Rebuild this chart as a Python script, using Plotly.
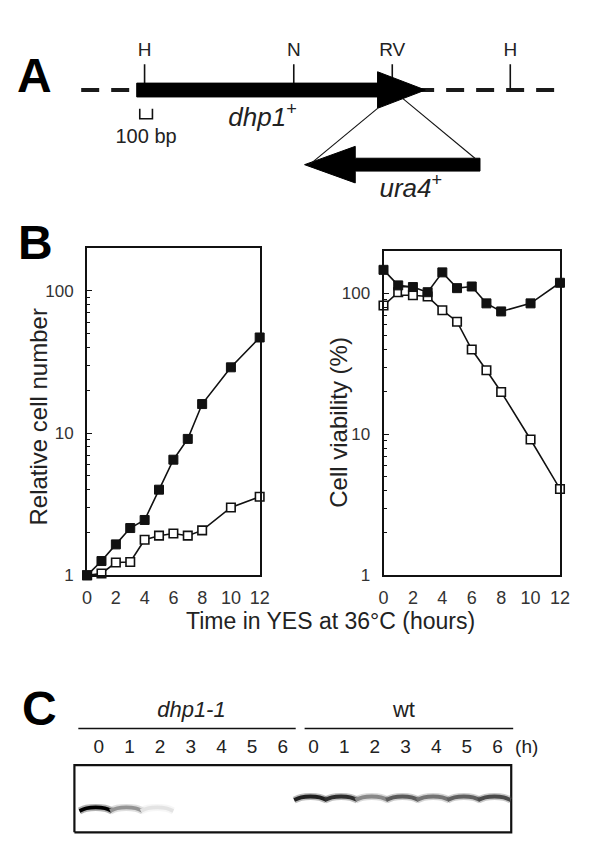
import plotly.graph_objects as go

W, H = 600, 860
FONT = "Liberation Sans, Arial, Helvetica, sans-serif"
NARROW = "Liberation Sans Narrow, Arial Narrow, Liberation Sans, sans-serif"

# ---------------- Panel A : restriction map (positions in bp, H = 0) -------------
site_labels = ["H", "N", "RV", "H"]
site_bp = [0, 1177, 1954, 2885]
dhp1_start_bp = -62
dhp1_end_bp = 2215
ura4_tip_bp = 1262
ura4_end_bp = 2646
map_left_bp = -500
map_right_bp = 3231
scalebar_bp = 100

# ---------------- Panel B : growth and viability --------------------------------
time_growth = [0, 1, 2, 3, 4, 5, 6, 7, 8, 10, 12]
cells_filled = [1, 1.26, 1.65, 2.15, 2.45, 4.0, 6.5, 9.1, 16, 29, 47]
cells_open = [1, 1.03, 1.23, 1.24, 1.78, 1.9, 1.97, 1.9, 2.07, 3.0, 3.57]

time_viab_filled = [0, 1, 2, 3, 4, 5, 6, 7, 8, 10, 12]
viab_filled = [147, 114, 111, 102, 141, 109, 112, 85, 74.5, 85, 119]
time_viab_open = [0, 1, 1.5, 2, 3, 4, 5, 6, 7, 8, 10, 12]
viab_open = [82, 102, 104, 97, 95, 76, 63, 40, 28.5, 20, 9.2, 4.1]

x_ticks = [0, 2, 4, 6, 8, 10, 12]
y_ticks = [1, 10, 100]
y_minor = [2, 3, 4, 5, 6, 7, 8, 9, 20, 30, 40, 50, 60, 70, 80, 90]

# ---------------- Panel C : western blot ----------------------------------------
hours = [0, 1, 2, 3, 4, 5, 6]
dhp1_signal = [1.0, 0.45, 0.12, 0, 0, 0, 0]
wt_signal = [0.9, 0.85, 0.5, 0.68, 0.58, 0.66, 0.74]
strain_labels = ["dhp1-1", "wt"]


def py(p):
    return 1 - p / H


fig = go.Figure()

# ===== Panel A (axes x3/y3; y = vertical offset from map line, px-like units) =====
A = dict(xaxis="x3", yaxis="y3", hoverinfo="skip", showlegend=False)
dash_style = dict(color="#1a1a1a", width=4, dash="18px,12px")
fig.add_trace(go.Scatter(x=[map_left_bp, dhp1_start_bp], y=[0, 0], mode="lines",
                         line=dash_style, **A))
fig.add_trace(go.Scatter(x=[map_right_bp, dhp1_end_bp - 60], y=[0, 0], mode="lines",
                         line=dash_style, **A))
tx, ty = [], []
for b in site_bp:
    tx += [b, b, None]
    ty += [0, 26, None]
fig.add_trace(go.Scatter(x=tx, y=ty, mode="lines", line=dict(color="#111", width=1.6), **A))

head_len = 377
head_base = dhp1_end_bp - head_len
bar_h, head_h = 7, 18.5
fig.add_trace(go.Scatter(
    x=[dhp1_start_bp, head_base, head_base, dhp1_end_bp, head_base, head_base, dhp1_start_bp, dhp1_start_bp],
    y=[bar_h, bar_h, head_h, 0, -head_h, -bar_h, -bar_h, bar_h],
    mode="lines", fill="toself", fillcolor="#000", line=dict(color="#000", width=1), **A))

# ura4 arrow (pointing left)
uy = -75.5
u_head = ura4_tip_bp + 400
fig.add_trace(go.Scatter(
    x=[ura4_tip_bp, u_head, u_head, ura4_end_bp, ura4_end_bp, u_head, u_head, ura4_tip_bp],
    y=[uy, uy + head_h, uy + 6.5, uy + 6.5, uy - 6.5, uy - 6.5, uy - head_h, uy],
    mode="lines", fill="toself", fillcolor="#000", line=dict(color="#000", width=1), **A))


def lower_edge(xb):
    f = (xb - head_base) / head_len
    return -head_h * (1 - f)


l1 = site_bp[2] - 116
l2 = site_bp[2] + 84
fig.add_trace(go.Scatter(
    x=[l1, ura4_tip_bp + 30, None, l2, ura4_end_bp - 40],
    y=[lower_edge(l1), uy - 1, None, lower_edge(l2), uy + 6.5],
    mode="lines", line=dict(color="#111", width=1.1), **A))

# scale bar
sb0 = -38
fig.add_trace(go.Scatter(x=[sb0, sb0, sb0 + scalebar_bp, sb0 + scalebar_bp], y=[-19, -29, -29, -19],
                         mode="lines", line=dict(color="#111", width=1.6), **A))

fig.add_trace(go.Scatter(x=site_bp, y=[39] * 4, text=site_labels, mode="text",
                         textfont=dict(family=FONT, size=19, color="#222"), **A))
fig.add_trace(go.Scatter(
    x=[sb0 + scalebar_bp / 2, 931, 2100], y=[-49, -30, -102],
    text=["100 bp", "<i>dhp1</i><sup>+</sup>", "<i>ura4</i><sup>+</sup>"],
    mode="text", textfont=dict(family=FONT, size=[20, 26, 26], color="#222"), **A))

# ===== Panel B =====
line_style = dict(color="#111", width=1.6)
filled_mk = dict(symbol="square", size=9, color="#111", line=dict(color="#111", width=1))
open_mk = dict(symbol="square", size=8.5, color="white", line=dict(color="#111", width=1.6))

fig.add_trace(go.Scatter(x=time_growth, y=cells_open, mode="lines+markers", line=line_style,
                         marker=open_mk, cliponaxis=False, showlegend=False, xaxis="x", yaxis="y"))
fig.add_trace(go.Scatter(x=time_growth, y=cells_filled, mode="lines+markers", line=line_style,
                         marker=filled_mk, cliponaxis=False, showlegend=False, xaxis="x", yaxis="y"))
fig.add_trace(go.Scatter(x=time_viab_open, y=viab_open, mode="lines+markers", line=line_style,
                         marker=open_mk, cliponaxis=False, showlegend=False, xaxis="x2", yaxis="y2"))
fig.add_trace(go.Scatter(x=time_viab_filled, y=viab_filled, mode="lines+markers", line=line_style,
                         marker=filled_mk, cliponaxis=False, showlegend=False, xaxis="x2", yaxis="y2"))

# ===== Panel C (axes x4/y4; x = lane index, y = gel-height units) =====
C = dict(xaxis="x4", yaxis="y4", hoverinfo="skip", showlegend=False)
n = len(hours)
lanes = list(range(2 * n))
fig.add_trace(go.Scatter(x=[-0.667, 6.42, None, 6.71, 13.51], y=[1.544, 1.544, None, 1.544, 1.544],
                         mode="lines", line=dict(color="#111", width=1.6), **C))
fig.add_trace(go.Scatter(x=[3.02, 9.95], y=[1.80, 1.80],
                         text=["<i>" + strain_labels[0] + "</i>", strain_labels[1]],
                         mode="text", textfont=dict(family=FONT, size=22, color="#222"), **C))
fig.add_trace(go.Scatter(x=lanes + [13.95], y=[1.25] * (2 * n + 1),
                         text=[str(h) for h in hours] * 2 + ["(h)"],
                         mode="text", textfont=dict(family=FONT, size=19, color="#222"), **C))
fig.add_trace(go.Scatter(x=[-0.795, 13.446, 13.446, -0.795, -0.795], y=[0, 0, 1, 1, 0],
                         mode="lines", line=dict(color="#111", width=2.2), **C))

band_rows = [(dhp1_signal, 0, 0.353), (wt_signal, n, 0.515)]
for signal, off, ymob in band_rows:
    for i, s in enumerate(signal):
        if s <= 0:
            continue
        c = off + i - 0.1
        g = int(255 * (1 - s) ** 0.9)
        col = "rgb(%d,%d,%d)" % (g, g, g)
        bx = [c - 0.53, c - 0.3, c, c + 0.3, c + 0.53]
        by = [ymob - 0.035, ymob + 0.005, ymob + 0.018, ymob + 0.005, ymob - 0.035]
        fig.add_trace(go.Scatter(x=bx, y=by, mode="lines", line=dict(color=col, width=7, shape="spline"),
                                 opacity=0.3, **C))
        fig.add_trace(go.Scatter(x=bx, y=by, mode="lines", line=dict(color=col, width=3.8, shape="spline"),
                                 **C))

# ===== panel letters & axis titles =====
ann = []
for letter, xp, ypx in [("A", 22, 68), ("B", 23, 237), ("C", 27, 709)]:
    ann.append(dict(text="<b>%s</b>" % letter, x=xp / W, y=py(ypx), xref="paper", yref="paper",
                    showarrow=False, xanchor="center", yanchor="middle",
                    font=dict(family=NARROW, size=48, color="#000")))
ann.append(dict(text="Relative cell number", x=26 / W, y=py(414), xref="paper", yref="paper",
                textangle=-90, showarrow=False, xanchor="center", yanchor="middle",
                font=dict(family=FONT, size=24, color="#222")))
ann.append(dict(text="Cell viability (%)", x=333 / W, y=py(419), xref="paper", yref="paper",
                textangle=-90, showarrow=False, xanchor="center", yanchor="middle",
                font=dict(family=FONT, size=24, color="#222")))
ann.append(dict(text="Time in YES at 36°C (hours)", x=326 / W, y=py(620), xref="paper", yref="paper",
                showarrow=False, xanchor="center", yanchor="middle",
                font=dict(family=FONT, size=23, color="#222")))

xcommon = dict(range=[0, 12], tickvals=x_ticks, ticks="", showline=True, mirror=True, linewidth=2,
               linecolor="#111", showgrid=False, zeroline=False, ticklabelstandoff=5,
               tickfont=dict(family=FONT, size=18, color="#333"))
ycommon = dict(type="log", range=[0, 2.3], tickvals=y_ticks, ticktext=[str(v) for v in y_ticks],
               ticks="inside", ticklen=5, tickwidth=1.3, tickcolor="#111",
               minor=dict(tickvals=y_minor, ticks="inside", ticklen=3, tickwidth=1.2, tickcolor="#111"),
               showline=True, mirror=True, linewidth=2, linecolor="#111", showgrid=False,
               zeroline=False, ticklabelstandoff=8, tickfont=dict(family=FONT, size=17, color="#333"))

hidden = dict(visible=False, showgrid=False, zeroline=False, fixedrange=True)

fig.update_layout(
    width=W, height=H, margin=dict(l=0, r=0, t=0, b=0),
    paper_bgcolor="white", plot_bgcolor="rgba(0,0,0,0)", showlegend=False,
    xaxis=dict(domain=[76 / W, 253 / W], anchor="y", **xcommon),
    yaxis=dict(domain=[py(574), py(243)], anchor="x", **ycommon),
    xaxis2=dict(domain=[380 / W, 561 / W], anchor="y2", **xcommon),
    yaxis2=dict(domain=[py(574), py(246)], anchor="x2", **ycommon),
    xaxis3=dict(domain=[0, 1], range=[-1038, 3577], anchor="y3", **hidden),
    yaxis3=dict(domain=[py(200), 1], range=[-117, 83], anchor="x3", **hidden),
    xaxis4=dict(domain=[0, 1], range=[-2.797, 16.275], anchor="y4", **hidden),
    yaxis4=dict(domain=[0, py(680)], range=[-0.382, 2.265], anchor="x4", **hidden),
    annotations=ann,
)

fig.write_html("out.html")
